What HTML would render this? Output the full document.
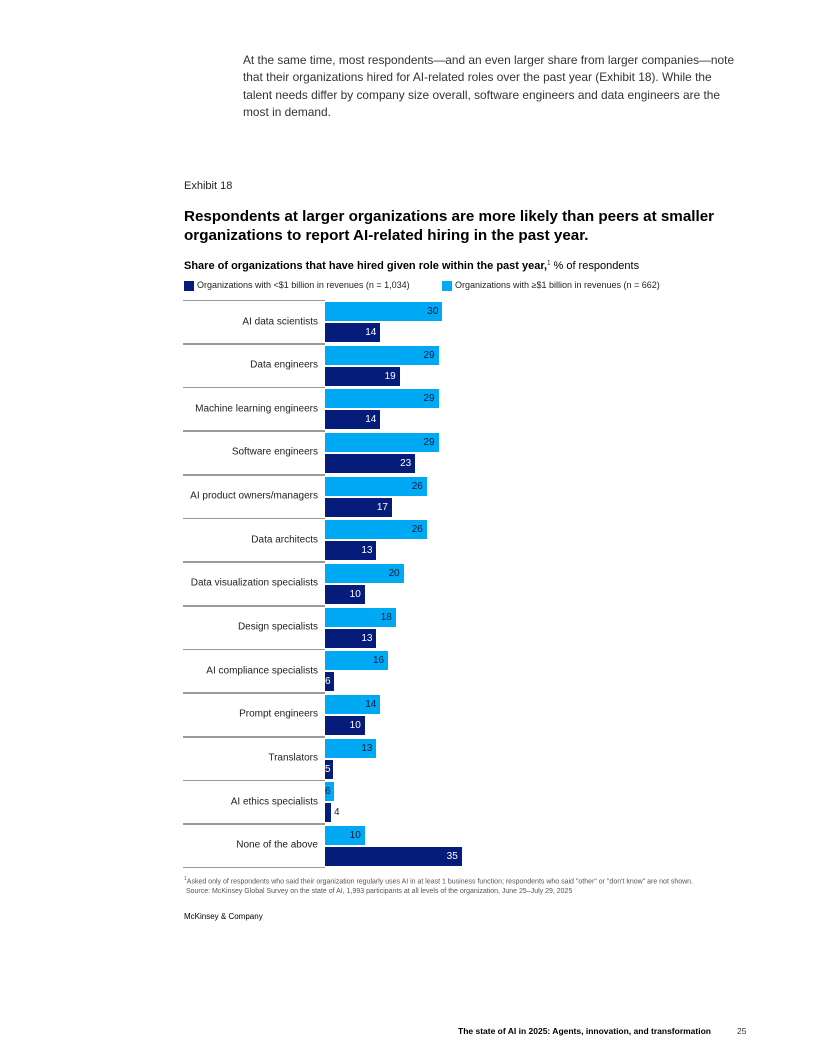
<!DOCTYPE html>
<html><head><meta charset="utf-8"><style>
body{margin:0;background:#fff;}
.pg{position:relative;width:816px;height:1056px;overflow:hidden;font-family:"Liberation Sans",sans-serif;color:#222;}
.a{position:absolute;white-space:nowrap;}
.lbl{position:absolute;right:498px;font-size:10px;color:#222;transform:translateY(-50%);}
.sep{position:absolute;left:183px;width:142px;height:1.5px;background:#9a9a9a;}
.b{position:absolute;left:325px;height:19px;font-size:10px;line-height:19px;text-align:right;box-sizing:border-box;padding-right:4px;}
.l{background:#00a9f4;color:#0a1a3a;}
.d{background:#051c7a;color:#fff;}
</style></head><body><div class="pg">
<div class="a" style="left:243px;top:52px;font-size:11.9px;line-height:17.4px;color:#333;">At the same time, most respondents—and an even larger share from larger companies—note<br>that their organizations hired for AI-related roles over the past year (Exhibit 18). While the<br>talent needs differ by company size overall, software engineers and data engineers are the<br>most in demand.</div>
<div class="a" style="left:184px;top:180px;font-size:11px;color:#222;">Exhibit 18</div>
<div class="a" style="left:184px;top:207px;font-size:15.2px;line-height:19px;font-weight:bold;color:#000;">Respondents at larger organizations are more likely than peers at smaller<br>organizations to report AI-related hiring in the past year.</div>
<div class="a" style="left:184px;top:260px;font-size:11px;color:#000;"><b>Share of organizations that have hired given role within the past year,</b><sup style="font-size:6px">1</sup> % of respondents</div>
<div class="a" style="left:184px;top:281px;width:10px;height:10px;background:#051c7a;"></div>
<div class="a" style="left:197px;top:280px;font-size:9px;color:#222;">Organizations with &lt;$1 billion in revenues (n = 1,034)</div>
<div class="a" style="left:442px;top:281px;width:10px;height:10px;background:#00a9f4;"></div>
<div class="a" style="left:455px;top:280px;font-size:9px;color:#222;">Organizations with ≥$1 billion in revenues (n = 662)</div>
<div id="rows"></div>
<div class="a" style="left:184px;top:875px;font-size:7px;line-height:9.5px;color:#555;"><sup style="font-size:5px">1</sup>Asked only of respondents who said their organization regularly uses AI in at least 1 business function; respondents who said "other" or "don't know" are not shown.<br>&nbsp;Source: McKinsey Global Survey on the state of AI, 1,993 participants at all levels of the organization, June 25–July 29, 2025</div>
<div class="a" style="left:184px;top:912px;font-size:8px;color:#000;">McKinsey &amp; Company</div>
<div class="a" style="left:458px;top:1026px;font-size:8.5px;font-weight:bold;color:#000;">The state of AI in 2025: Agents, innovation, and transformation</div>
<div class="a" style="left:737px;top:1026px;font-size:8.5px;color:#333;">25</div>
<script>
var d=[["AI data scientists",30,14],["Data engineers",29,19],["Machine learning engineers",29,14],["Software engineers",29,23],["AI product owners/managers",26,17],["Data architects",26,13],["Data visualization specialists",20,10],["Design specialists",18,13],["AI compliance specialists",16,6],["Prompt engineers",14,10],["Translators",13,5],["AI ethics specialists",6,4],["None of the above",10,35]];
var h="";
function bar(c,t,v){var w=v*3.88+1;
 if(v<=4) return '<div class="b '+c+'" style="top:'+t+'px;width:6px;padding:0"></div><div class="a" style="left:334px;top:'+t+'px;font-size:10px;line-height:19px;color:#222">'+v+'</div>';
 if(v<=6) return '<div class="b '+c+'" style="top:'+t+'px;width:'+(v==5?8:9)+'px;padding:0;text-align:left">'+v+'</div>';
 return '<div class="b '+c+'" style="top:'+t+'px;width:'+w+'px">'+v+'</div>';}
for(var i=0;i<d.length;i++){var y=299.5+i*43.65;
 h+='<div class="sep" style="top:'+y+'px"></div>';
 h+='<div class="lbl" style="top:'+(y+22)+'px">'+d[i][0]+'</div>';
 h+=bar('l',y+2.5,d[i][1]);h+=bar('d',y+23.5,d[i][2]);}
h+='<div class="sep" style="top:'+(299.5+13*43.65)+'px"></div>';
document.getElementById('rows').innerHTML=h;
</script>
</div></body></html>
